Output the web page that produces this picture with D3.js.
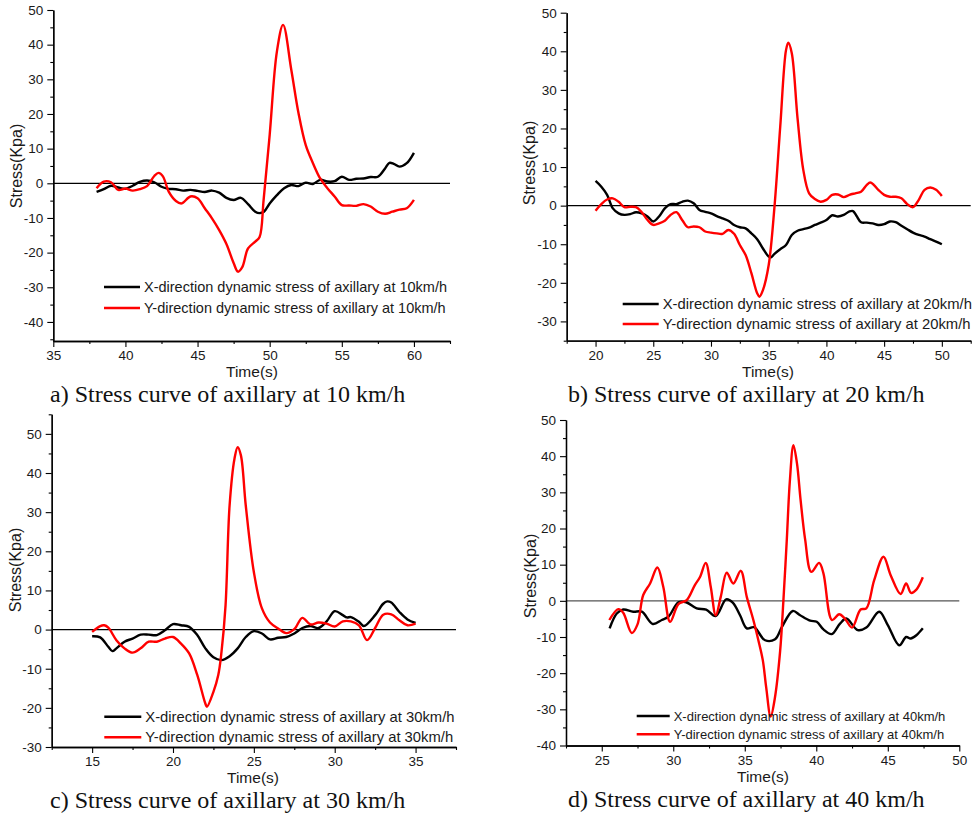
<!DOCTYPE html>
<html>
<head>
<meta charset="utf-8">
<script src="https://cdn.jsdelivr.net/npm/d3@7"></script>
<style>
  html, body { margin: 0; padding: 0; background: #fff; }
  svg { display: block; }
</style>
</head>
<body>
<svg id="fig" width="978" height="815"></svg>
<script>
// ---- Dynamic stress of the axillary, [time (s), stress (Kpa)] ----

// 10 km/h
const xStress10 = [[38,-2.5],[38.5,-1.7],[39,-0.7],[39.5,-1.2],[40,-1.6],[40.5,-0.7],[41,0.4],[41.5,0.8],[42,0.3],[42.5,-1.0],[43,-1.6],[43.5,-1.7],[44,-2.1],[44.5,-1.9],[45,-2.2],[45.5,-2.5],[46,-2.1],[46.5,-2.7],[47,-4.2],[47.5,-4.8],[48,-4.2],[48.5,-6.0],[49,-8.2],[49.3,-8.6],[49.6,-8.2],[50,-5.8],[50.5,-3.4],[51,-1.4],[51.5,-0.5],[52,-0.8],[52.5,0.2],[53,-0.2],[53.5,1.0],[54,0.5],[54.5,0.6],[55,1.9],[55.5,1.0],[56,1.3],[56.5,1.4],[57,1.8],[57.5,1.9],[58,4.3],[58.3,5.9],[58.6,5.6],[59,4.8],[59.5,5.8],[60,8.8]];
const yStress10 = [[38,-1.4],[38.5,0.5],[39,0.3],[39.5,-1.9],[40,-1.5],[40.5,-2.1],[41,-1.7],[41.5,-0.8],[42,2.1],[42.3,3.0],[42.6,2.0],[43,-2.4],[43.5,-5.1],[43.9,-5.8],[44.5,-3.8],[45,-4.3],[45.5,-7.2],[46,-10.1],[46.5,-13.5],[47,-17.5],[47.5,-23.0],[47.8,-25.5],[48.1,-24.2],[48.5,-18.8],[49,-16.8],[49.3,-15.5],[49.58,-4.8],[50,14],[50.5,38],[50.93,45.7],[51.5,32.7],[52,20.2],[52.5,11],[53,5.8],[53.5,1.4],[54,-1.4],[54.5,-3.8],[55,-6.3],[55.5,-6.4],[56,-6.5],[56.5,-6.0],[57,-6.7],[57.5,-8.2],[58,-8.8],[58.5,-8.2],[59,-7.6],[59.5,-7.2],[60,-4.8]];

// 20 km/h
const xStress20 = [[20,6.4],[20.5,4.9],[21,2.8],[21.5,-0.7],[22,-2.0],[22.5,-2.4],[23,-2.2],[23.5,-1.7],[24,-2.0],[24.5,-2.8],[25,-4.1],[25.5,-2.8],[26,-0.7],[26.5,0.4],[27,0.4],[27.5,1.0],[28,1.3],[28.5,0.6],[29,-1.1],[29.5,-1.6],[30,-2.0],[30.5,-2.7],[31,-3.3],[31.5,-3.9],[32,-5.0],[32.5,-5.6],[33,-5.9],[33.5,-7.2],[34,-8.7],[34.5,-11.1],[35,-13.2],[35.2,-13.4],[35.5,-12.5],[36,-11.3],[36.5,-10.2],[37,-7.6],[37.5,-6.5],[38,-6.1],[38.5,-5.7],[39,-5.0],[39.5,-4.4],[40,-3.7],[40.5,-2.5],[41,-2.8],[41.5,-2.4],[42,-1.5],[42.3,-1.4],[42.6,-2.6],[43,-4.3],[43.5,-4.4],[44,-4.6],[44.5,-5.0],[45,-4.8],[45.5,-4.1],[46,-4.3],[46.5,-5.2],[47,-6.1],[47.5,-7.0],[48,-7.6],[48.5,-8.0],[49,-8.7],[49.5,-9.3],[50,-10.0]];
const yStress20 = [[20,-1.3],[20.5,0.4],[21,1.6],[21.5,1.9],[22,1.0],[22.5,-0.4],[23,-0.3],[23.5,-0.4],[24,-1.7],[24.5,-3.7],[25,-5.0],[25.5,-4.6],[26,-3.9],[26.5,-2.4],[27,-1.7],[27.5,-3.7],[28,-5.6],[28.5,-5.4],[29,-5.6],[29.5,-6.7],[30,-7.0],[30.5,-7.2],[31,-7.3],[31.5,-6.3],[32,-7.3],[32.5,-10.2],[33,-12.8],[33.5,-17.5],[34,-22.7],[34.2,-23.6],[34.5,-21.9],[35,-15.4],[35.5,-0.3],[36,20.5],[36.5,40.3],[36.7,42.2],[37,39.5],[37.5,22.6],[38,9.2],[38.5,3.2],[39,1.7],[39.5,1.0],[40,1.5],[40.5,2.8],[41,2.9],[41.5,2.2],[42,2.8],[42.5,3.2],[43,3.6],[43.5,5.4],[43.8,6.0],[44.1,5.4],[44.5,4.1],[45,2.8],[45.5,2.3],[46,2.3],[46.5,1.9],[47,0.4],[47.5,-0.4],[48,1.5],[48.5,4.1],[49,4.7],[49.5,4.1],[50,2.5]];

// 30 km/h
const xStress30 = [[15,-1.7],[15.5,-2.0],[16,-4.4],[16.25,-5.5],[16.5,-4.8],[17,-3.1],[17.5,-2.3],[18,-1.3],[18.5,-1.3],[19,-1.4],[19.5,-0.2],[20,1.4],[20.5,1.1],[21,0.7],[21.5,-1.4],[22,-4.8],[22.5,-7.1],[23,-7.8],[23.5,-6.8],[24,-4.8],[24.5,-1.9],[25,-0.4],[25.5,-1.0],[26,-2.5],[26.5,-2.1],[27,-1.9],[27.5,-1.0],[28,0.4],[28.5,0.9],[29,0.4],[29.5,2.1],[30,4.7],[30.5,3.7],[30.75,3.1],[31,3.2],[31.5,2.0],[31.8,0.9],[32.5,3.7],[33,6.6],[33.25,7.2],[33.5,6.9],[34,4.5],[34.5,2.6],[35,1.7]];
const yStress30 = [[15,-0.6],[15.5,0.9],[15.75,1.1],[16,0.5],[16.5,-2.7],[17,-4.8],[17.5,-5.9],[18,-4.8],[18.5,-3.1],[19,-3.1],[19.5,-2.3],[20,-1.9],[20.5,-3.6],[21,-6.1],[21.5,-11.6],[22,-18.9],[22.1,-19.7],[22.5,-15.9],[22.8,-11.6],[23,-5.7],[23.25,6.2],[23.5,31.7],[23.8,43.6],[24,46.6],[24.2,44.5],[24.5,31.7],[25,14.7],[25.5,5.4],[26,1.8],[26.5,0.3],[27,-0.9],[27.5,0.1],[28,3.0],[28.5,1.3],[29,1.8],[29.5,1.5],[30,0.8],[30.5,2.1],[31,2.1],[31.5,1.1],[32,-2.7],[32.5,0.4],[33,3.8],[33.5,3.9],[34,2.4],[34.5,1.1],[35,1.5]];

// 40 km/h
const xStress40 = [[25.55,-7.6],[26.05,-3.5],[26.5,-2.4],[27.2,-3.0],[27.8,-3.0],[28.57,-6.4],[29.2,-5.3],[29.66,-4.4],[30.36,-0.4],[30.9,-0.4],[31.64,-2.1],[32.3,-2.4],[32.96,-4.2],[33.7,0.4],[34.16,-0.5],[34.67,-4.0],[35.14,-7.6],[35.65,-7.3],[36.42,-10.9],[37.12,-10.6],[37.6,-7.2],[38.36,-2.8],[38.87,-4.0],[39.57,-5.5],[40.03,-5.8],[40.5,-7.9],[41.08,-9.2],[41.66,-6.3],[42.1,-4.9],[42.9,-8.1],[43.5,-7.4],[44.4,-3.0],[45.0,-6.7],[45.8,-12.3],[46.28,-10.0],[46.6,-10.4],[47.0,-9.5],[47.45,-7.6]];
const yStress40 = [[25.53,-5.3],[26.16,-2.3],[26.5,-3.3],[27.1,-8.9],[27.5,-6.5],[27.9,1.6],[28.38,4.8],[28.89,9.2],[29.3,3.9],[29.78,-5.8],[30.36,-0.9],[30.94,0.2],[31.5,4.3],[31.87,6.6],[32.27,10.5],[32.62,3.9],[32.97,-4.0],[33.32,1.1],[33.74,7.8],[34.2,4.8],[34.72,8.3],[35.14,1.1],[35.6,-5.3],[35.95,-10.9],[36.26,-16.4],[36.5,-24],[36.81,-32],[37.1,-27],[37.47,-14],[37.7,0],[37.94,17],[38.15,33],[38.4,43],[38.65,38],[38.9,28],[39.22,17],[39.65,8.0],[40.2,10.5],[40.5,7.6],[41.1,-5.3],[41.6,-3.7],[42.0,-4.9],[42.5,-7.4],[43.1,-2.4],[43.5,-2.1],[44.05,5.7],[44.7,12.2],[45.2,7.1],[45.9,1.9],[46.28,4.8],[46.63,2.2],[47.0,3.1],[47.45,6.5]];

// Axis tick values
const yTicksA = [-40,-30,-20,-10,0,10,20,30,40,50];
const yTicksB = [-30,-20,-10,0,10,20,30,40,50];
const yTicksC = [-30,-20,-10,0,10,20,30,40,50];
const yTicksD = [-40,-30,-20,-10,0,10,20,30,40,50];
const xTicksA = [35,40,45,50,55,60];
const xTicksB = [20,25,30,35,40,45,50];
const xTicksC = [15,20,25,30,35];
const xTicksD = [25,30,35,40,45,50];

const speeds = ["10", "20", "30", "40"];
const captionLetters = ["a)", "b)", "c)", "d)"];

// ---- Panel layout ----
const panels = [
  { xs: xStress10, ys: yStress10, speed: speeds[0], cap: captionLetters[0],
    xDom: [35, 62.5], xPx: [53.3, 450], yDom: [-45.5, 50], yPx: [341, 10],
    xTicks: xTicksA, yTicks: yTicksA,
    legX: 104, legY: 287, legGap: 21, legLen: 36, legFont: 14.5,
    yTitle: [16, 166], xTitle: [252, 377.2], capX: 50, capY: 402, zeroColor: "#000" },
  { xs: xStress20, ys: yStress20, speed: speeds[1], cap: captionLetters[1],
    xDom: [17.5, 52.5], xPx: [566.7, 970.7], yDom: [-35, 50], yPx: [340.7, 12.7],
    xTicks: xTicksB, yTicks: yTicksB,
    legX: 622.7, legY: 304, legGap: 20, legLen: 36, legFont: 14.8,
    yTitle: [529.5, 163], xTitle: [768, 377], capX: 568, capY: 402, zeroColor: "#000" },
  { xs: xStress30, ys: yStress30, speed: speeds[2], cap: captionLetters[2],
    xDom: [12.5, 37.5], xPx: [51.7, 456], yDom: [-30, 55], yPx: [747, 414.3],
    xTicks: xTicksC, yTicks: yTicksC,
    legX: 104.3, legY: 716.7, legGap: 20.6, legLen: 37, legFont: 14.8,
    yTitle: [15.5, 570], xTitle: [253, 783.2], capX: 50, capY: 808, zeroColor: "#000" },
  { xs: xStress40, ys: yStress40, speed: speeds[3], cap: captionLetters[3],
    xDom: [22.5, 50], xPx: [566, 959.3], yDom: [-40, 50], yPx: [745.5, 420],
    xTicks: xTicksD, yTicks: yTicksD,
    legX: 636.7, legY: 716, legGap: 18.3, legLen: 33, legFont: 13,
    yTitle: [530.5, 576], xTitle: [763, 781.7], capX: 568, capY: 807, zeroColor: "#555" }
];

const svg = d3.select("#fig");
const sans = "'Liberation Sans', Arial, sans-serif";
const serif = "'Liberation Serif', 'Times New Roman', serif";

// half-step positions between the labelled ticks
function minorBetween(major, step) {
  const out = [];
  const lo = major[0] - step, hi = major[major.length - 1] + step;
  for (let v = lo; v <= hi + 1e-9; v += step) {
    if (!major.some(m => Math.abs(m - v) < 1e-9)) out.push(+v.toFixed(3));
  }
  return out;
}

panels.forEach(p => {
  const x = d3.scaleLinear().domain(p.xDom).range(p.xPx);
  const y = d3.scaleLinear().domain(p.yDom).range(p.yPx);
  const g = svg.append("g");

  const xMinor = minorBetween(p.xTicks, (p.xTicks[1] - p.xTicks[0]) / 2)
    .filter(v => v >= p.xDom[0] - 1e-9 && v <= p.xDom[1] + 1e-9);
  const yMinor = minorBetween(p.yTicks, (p.yTicks[1] - p.yTicks[0]) / 2)
    .filter(v => v >= p.yDom[0] - 1e-9 && v <= p.yDom[1] + 1e-9);

  // zero reference line
  g.append("line")
    .attr("x1", x(p.xDom[0])).attr("x2", x(p.xDom[1]))
    .attr("y1", y(0)).attr("y2", y(0))
    .attr("stroke", p.zeroColor).attr("stroke-width", 1.2);

  // x axis
  const xAxisG = g.append("g").attr("transform", `translate(0,${y(p.yDom[0])})`);
  xAxisG.call(d3.axisBottom(x).tickValues(p.xTicks).tickSize(6).tickSizeOuter(0)
    .tickPadding(3.5).tickFormat(d => String(d)));
  xAxisG.append("g").call(d3.axisBottom(x).tickValues(xMinor).tickSize(3).tickSizeOuter(0)
    .tickFormat(""));
  // y axis
  const yAxisG = g.append("g").attr("transform", `translate(${x(p.xDom[0])},0)`);
  yAxisG.call(d3.axisLeft(y).tickValues(p.yTicks).tickSize(6).tickSizeOuter(0)
    .tickPadding(4).tickFormat(d => String(d)));
  yAxisG.append("g").call(d3.axisLeft(y).tickValues(yMinor).tickSize(3).tickSizeOuter(0)
    .tickFormat(""));

  g.selectAll(".domain").attr("stroke", "#000").attr("stroke-width", 1.3);
  g.selectAll(".tick line").attr("stroke", "#000").attr("stroke-width", 1.1);
  g.selectAll(".tick text").attr("font-family", sans).attr("font-size", 13.5).attr("fill", "#1a1a1a");

  // curves
  const line = d3.line().x(d => x(d[0])).y(d => y(d[1])).curve(d3.curveCatmullRom.alpha(0.5));
  g.append("path").datum(p.xs).attr("d", line)
    .attr("fill", "none").attr("stroke", "#000").attr("stroke-width", 2.4)
    .attr("stroke-linejoin", "round");
  g.append("path").datum(p.ys).attr("d", line)
    .attr("fill", "none").attr("stroke", "#ff0000").attr("stroke-width", 2.4)
    .attr("stroke-linejoin", "round");

  // legend
  const legend = [
    { c: "#000", t: `X-direction dynamic stress of axillary at ${p.speed}km/h` },
    { c: "#ff0000", t: `Y-direction dynamic stress of axillary at ${p.speed}km/h` }
  ];
  legend.forEach((l, i) => {
    const ly = p.legY + i * p.legGap;
    g.append("line").attr("x1", p.legX).attr("x2", p.legX + p.legLen)
      .attr("y1", ly).attr("y2", ly).attr("stroke", l.c).attr("stroke-width", 2.6);
    g.append("text").attr("x", p.legX + p.legLen + 4).attr("y", ly)
      .attr("dy", "0.35em").attr("font-family", sans).attr("font-size", p.legFont)
      .attr("fill", "#1a1a1a").text(l.t);
  });

  // axis titles
  g.append("text")
    .attr("transform", `translate(${p.yTitle[0]},${p.yTitle[1]}) rotate(-90)`)
    .attr("text-anchor", "middle").attr("dy", "0.35em")
    .attr("font-family", sans).attr("font-size", 16).attr("fill", "#1a1a1a")
    .text("Stress(Kpa)");
  g.append("text").attr("x", p.xTitle[0]).attr("y", p.xTitle[1])
    .attr("text-anchor", "middle")
    .attr("font-family", sans).attr("font-size", 15.5).attr("fill", "#1a1a1a")
    .text("Time(s)");

  // caption
  g.append("text").attr("x", p.capX).attr("y", p.capY)
    .attr("font-family", serif).attr("font-size", 24).attr("fill", "#111")
    .text(`${p.cap} Stress curve of axillary at ${p.speed} km/h`);
});
</script>
</body>
</html>
